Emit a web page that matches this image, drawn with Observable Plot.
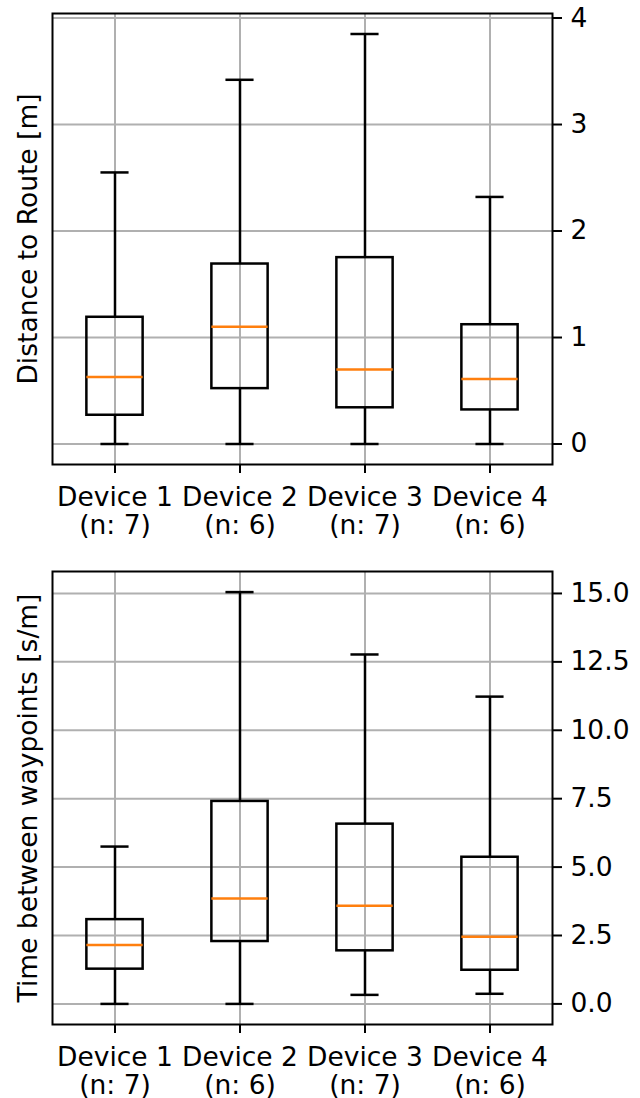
<!DOCTYPE html>
<html>
<head>
<meta charset="utf-8">
<script src="https://cdn.jsdelivr.net/npm/d3@7"></script>
<script src="https://cdn.jsdelivr.net/npm/@observablehq/plot@0.6"></script>
<style>
  html, body { margin: 0; padding: 0; background: #fff; }
  #chart svg { display: block; overflow: visible; }
</style>
</head>
<body>
<div id="chart"></div>
<script>
const categories = ["Device 1", "Device 2", "Device 3", "Device 4"];
const counts = [7, 6, 7, 6];

// Distance to Route [m]
const distMin    = [0.00, 0.00, 0.00, 0.00];
const distQ1     = [0.27, 0.52, 0.34, 0.32];
const distMedian = [0.63, 1.10, 0.70, 0.61];
const distQ3     = [1.19, 1.69, 1.75, 1.12];
const distMax    = [2.55, 3.42, 3.85, 2.32];
const distTicks  = [0, 1, 2, 3, 4];

// Time between waypoints [s/m]
const timeMin    = [0.00, 0.00, 0.33, 0.37];
const timeQ1     = [1.27, 2.28, 1.94, 1.23];
const timeMedian = [2.15, 3.85, 3.59, 2.45];
const timeQ3     = [3.08, 7.40, 6.57, 5.36];
const timeMax    = [5.75, 15.05, 12.77, 11.23];
const timeTicks  = [0, 2.5, 5, 7.5, 10, 12.5, 15];

const FONT = "DejaVu Sans, sans-serif";
const FS = 26.5;
const BOXW = 0.45, CAPW = 0.225;
const GRID = "#b0b0b0";
const LW = 2.5;
const AXW = 2;

function rows(mn, q1, md, q3, mx) {
  return categories.map((c, i) => ({
    pos: i + 1, min: mn[i], q1: q1[i], median: md[i], q3: q3[i], max: mx[i]
  }));
}

function padDomain(mn, mx) {
  const lo = d3.min(mn), hi = d3.max(mx), m = (hi - lo) * 0.05;
  return [lo - m, hi + m];
}

function panel({data, yTicks, yFormat, label, marginTop, marginBottom, height}) {
  return Plot.plot({
    width: 640,
    height,
    marginLeft: 52,
    marginRight: 88,
    marginTop,
    marginBottom,
    style: {fontFamily: FONT, fontSize: FS + "px", color: "black", background: "white"},
    x: {domain: [0.5, 4.5], axis: null},
    y: {domain: padDomain(data.map(d => d.min), data.map(d => d.max)), axis: null},
    marks: [
      Plot.gridX(categories.map((c, i) => i + 1), {stroke: GRID, strokeOpacity: 1, strokeWidth: AXW}),
      Plot.gridY(yTicks, {stroke: GRID, strokeOpacity: 1, strokeWidth: AXW}),
      Plot.ruleX(data, {x: "pos", y1: "q3", y2: "max", stroke: "black", strokeWidth: LW}),
      Plot.ruleX(data, {x: "pos", y1: "min", y2: "q1", stroke: "black", strokeWidth: LW}),
      Plot.ruleY(data, {y: "max", x1: d => d.pos - CAPW / 2, x2: d => d.pos + CAPW / 2, stroke: "black", strokeWidth: LW}),
      Plot.ruleY(data, {y: "min", x1: d => d.pos - CAPW / 2, x2: d => d.pos + CAPW / 2, stroke: "black", strokeWidth: LW}),
      Plot.rect(data, {x1: d => d.pos - BOXW / 2, x2: d => d.pos + BOXW / 2, y1: "q1", y2: "q3", fill: "none", stroke: "black", strokeWidth: LW}),
      Plot.ruleY(data, {y: "median", x1: d => d.pos - BOXW / 2, x2: d => d.pos + BOXW / 2, stroke: "#ff7f0e", strokeWidth: LW}),
      Plot.frame({stroke: "black", strokeWidth: AXW}),
      Plot.axisY({
        anchor: "right", ticks: yTicks, tickFormat: yFormat, tickSize: 9, tickPadding: 9,
        label: null, stroke: "black", strokeWidth: AXW, fontSize: FS
      }),
      Plot.axisX({
        anchor: "bottom", ticks: categories.map((c, i) => i + 1),
        tickFormat: v => `${categories[v - 1]}\n(n: ${counts[v - 1]})`,
        tickSize: 9, tickPadding: 12, label: null, stroke: "black", strokeWidth: AXW,
        fontSize: FS, lineHeight: 1.07
      }),
      Plot.text([label], {
        text: d => d, frameAnchor: "left", rotate: -90, dx: -24,
        fontSize: FS, fill: "black", textAnchor: "middle"
      })
    ]
  });
}

const topPanel = panel({
  data: rows(distMin, distQ1, distMedian, distQ3, distMax),
  yTicks: distTicks, yFormat: d3.format("d"),
  label: "Distance to Route [m]",
  height: 549, marginTop: 13, marginBottom: 85
});
const bottomPanel = panel({
  data: rows(timeMin, timeQ1, timeMedian, timeQ3, timeMax),
  yTicks: timeTicks, yFormat: d3.format(".1f"),
  label: "Time between waypoints [s/m]",
  height: 549, marginTop: 22, marginBottom: 74
});
document.getElementById("chart").append(topPanel, bottomPanel);
</script>
</body>
</html>
